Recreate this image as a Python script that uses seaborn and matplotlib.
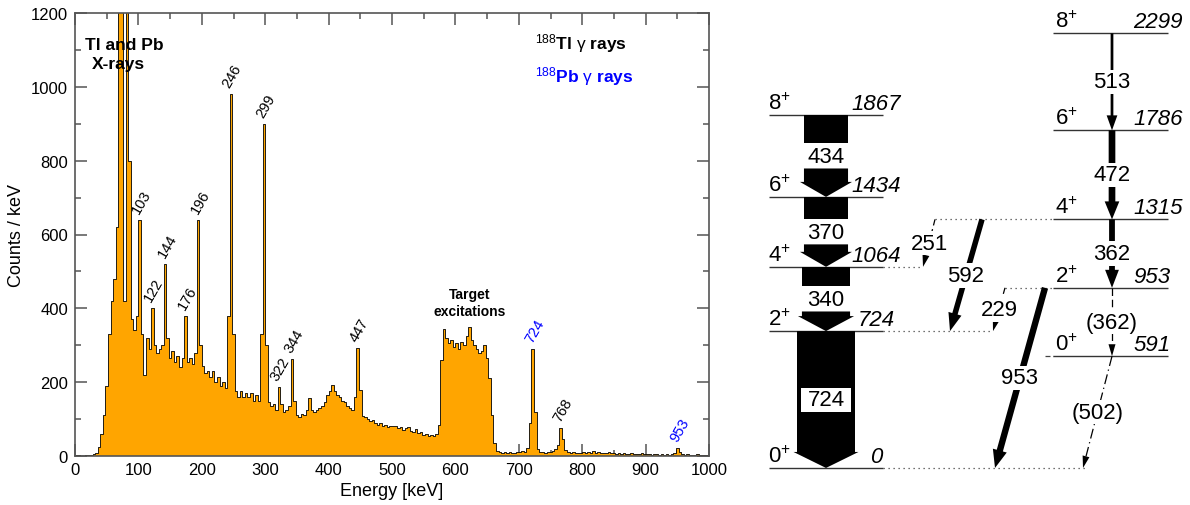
import numpy as np
import pandas as pd
import seaborn as sns
import matplotlib.pyplot as plt
from matplotlib.patches import Polygon, Rectangle
from matplotlib.ticker import MultipleLocator

#========================= Data ===============================================
# gamma spectrum, counts / keV in 4 keV bins from 0 to 1000 keV
bin_width = 4
counts = [
    3, 2, 1, 1, 2, 3, 4, 6, 8, 25, 60, 110, 190, 330, 420, 480, 620, 2600, 1900, 420, 2500, 800, 370, 340, 380,
    640, 330, 220, 320, 290, 400, 300, 280, 290, 300, 520, 320, 265, 285, 255, 270, 240, 265, 380, 255, 265, 250, 280, 640, 300,
    245, 225, 230, 215, 230, 200, 215, 190, 200, 185, 380, 980, 330, 175, 160, 175, 160, 170, 160, 170, 150, 165, 150, 330, 900,
    300, 145, 135, 140, 125, 187, 140, 120, 125, 135, 263, 150, 110, 105, 115, 110, 125, 158, 125, 120, 125, 130, 135, 145, 165,
    175, 192, 175, 165, 160, 150, 145, 135, 130, 125, 160, 293, 180, 108, 105, 100, 95, 98, 90, 85, 90, 80, 85, 78, 82,
    80, 82, 75, 78, 70, 75, 78, 68, 65, 72, 62, 64, 56, 60, 55, 58, 55, 60, 85, 260, 345, 320, 305, 315, 295,
    305, 290, 310, 300, 325, 350, 315, 300, 290, 280, 285, 300, 265, 210, 110, 35, 14, 10, 8, 10, 8, 12, 9, 8, 12,
    10, 14, 12, 22, 90, 290, 120, 20, 12, 10, 8, 12, 10, 14, 18, 30, 75, 45, 15, 10, 8, 10, 7, 9, 8,
    10, 8, 12, 9, 14, 8, 10, 7, 9, 8, 11, 7, 8, 6, 7, 6, 8, 5, 6, 7, 5, 6, 5, 7, 5,
    5, 6, 4, 5, 6, 4, 5, 4, 5, 4, 6, 8, 22, 12, 5, 4, 5, 3, 4, 3, 5, 3, 4, 3, 3,
]
peak_labels = [103, 122, 144, 176, 196, 246, 299, 322, 344, 447, 724, 768, 953]
pb_peaks = [724, 953]          # 188Pb lines, everything else 188Tl

# level scheme, band A (left) and band B (right)
band_a_levels = [0, 724, 1064, 1434, 1867]
band_a_spins = ['0', '2', '4', '6', '8']
band_a_gammas = ['724', '340', '370', '434']
band_a_intens = [100, 83, 76, 76]

band_b_levels = [591, 953, 1315, 1786, 2299]
band_b_spins = ['0', '2', '4', '6', '8']
gam_from = [2299, 1786, 1315, 953, 591, 1315, 953, 1315, 953]
gam_to = [1786, 1315, 953, 591, 0, 724, 0, 1064, 724]
gam_label = ['513', '472', '362', '(362)', '(502)', '592', '953', '251', '229']
gam_intens = [4.7, 11.5, 10, 0, 0, 9.5, 11, 0, 0]

#========================= Style ==============================================
sns.set_style('ticks')
plt.rcParams['font.family'] = ['Liberation Sans', 'DejaVu Sans']
plt.rcParams['mathtext.fontset'] = 'custom'
plt.rcParams['mathtext.rm'] = 'Liberation Sans'
plt.rcParams['mathtext.it'] = 'Liberation Sans:italic'
plt.rcParams['mathtext.bf'] = 'Liberation Sans:bold'
plt.rcParams['text.color'] = 'black'
plt.rcParams['axes.labelcolor'] = 'black'

fig = plt.figure(figsize=(11.9, 5.06), dpi=100)
fig.patch.set_facecolor('white')

#========================= Spectrum ===========================================
ax = fig.add_axes([75/1190, 49/506, 634/1190, 443/506])
lo = np.arange(0, 1000, bin_width)
spec = pd.DataFrame({'energy': lo + bin_width/2, 'counts': counts})
sns.histplot(data=spec, x='energy', weights='counts', binwidth=bin_width,
             binrange=(0, 1000), element='step', fill=True, facecolor='orange',
             edgecolor='black', linewidth=0.6, alpha=1, ax=ax)

ax.set_xlim(0, 1000)
ax.set_ylim(0, 1200)
ax.xaxis.set_major_locator(MultipleLocator(100))
ax.xaxis.set_minor_locator(MultipleLocator(50))
ax.yaxis.set_major_locator(MultipleLocator(200))
ax.yaxis.set_minor_locator(MultipleLocator(100))
ax.tick_params(which='both', direction='in', top=True, right=True,
               color='#555555', labelcolor='black', width=1.1, labelsize=12)
ax.tick_params(which='major', length=8.6)
ax.tick_params(which='minor', length=4.3)
ax.tick_params(axis='x', pad=4)
ax.tick_params(axis='y', pad=5)
for s in ax.spines.values():
    s.set_color('#555555')
    s.set_linewidth(1.2)
ax.set_xlabel('Energy [keV]', fontsize=13)
ax.set_ylabel('Counts / keV', fontsize=13)

centers = spec['energy'].values
cnt = spec['counts'].values
for e in peak_labels:
    top = cnt[np.abs(centers - e) <= 5].max()
    col = 'blue' if e in pb_peaks else 'black'
    ax.text(e + 2, top + 12, str(e), rotation=60, ha='center', va='bottom',
            fontsize=10.5, color=col)

ax.text(16, 1103, 'Tl and Pb', fontsize=12.5, fontweight='bold', ha='left', va='baseline')
ax.text(27, 1050, 'X-rays', fontsize=12.5, fontweight='bold', ha='left', va='baseline')
ax.text(623, 415, 'Target\nexcitations', fontsize=10, fontweight='bold',
        ha='center', va='center', linespacing=1.3)
ax.text(725, 1103, r'$^{188}$Tl $\mathrm{\gamma}$ rays', fontsize=12.5,
        fontweight='bold', ha='left', va='baseline')
ax.text(725, 1016, r'$^{188}$Pb $\mathrm{\gamma}$ rays', fontsize=12.5,
        fontweight='bold', ha='left', va='baseline', color='blue')

#========================= Level scheme =======================================
Y0, Y1 = -196, 2481
KY = 506 / (Y1 - Y0)         # pixels per keV
lv = fig.add_axes([740/1190, 0, 450/1190, 1])
lv.set_xlim(740, 1190)
lv.set_ylim(Y0, Y1)
lv.axis('off')

FS = 16
PX = 0.58                    # band width in px per % intensity


def arrow(x0, e0, x1, e1, w, head_len, head_hw):
    p0 = np.array([x0, e0 * KY])
    p1 = np.array([x1, e1 * KY])
    d = (p1 - p0) / np.linalg.norm(p1 - p0)
    n = np.array([-d[1], d[0]])
    b = p1 - d * head_len
    pts = np.array([p0 + n*w/2, b + n*w/2, b + n*head_hw, p1,
                    b - n*head_hw, b - n*w/2, p0 - n*w/2])
    pts[:, 1] /= KY
    lv.add_patch(Polygon(pts, closed=True, facecolor='black', edgecolor='none', zorder=3))
    return b[0], b[1] / KY


# levels
lv.hlines(band_a_levels, 769, 883, color='#333333', lw=1)
lv.hlines(band_b_levels, 1053, 1168, color='#333333', lw=1)
for e, s in zip(band_a_levels, band_a_spins):
    lv.text(768, e + 6/KY, s + r'$^{+}$', fontsize=FS, ha='left', va='baseline')
    lv.text(876, e + 6/KY, str(e), fontsize=FS, style='italic', ha='center', va='baseline')
for e, s in zip(band_b_levels, band_b_spins):
    lv.text(1055, e + 6/KY, s + r'$^{+}$', fontsize=FS, ha='left', va='baseline')
    lv.text(1133, e + 6/KY, str(e), fontsize=FS, style='italic', ha='left', va='baseline')

# dotted level extensions
dot = dict(color='#444444', lw=0.9, linestyle=(0, (1, 3)))
lv.hlines(1315, 935, 1053, **dot)
lv.hlines(953, 1005, 1053, **dot)
lv.hlines(1064, 883, 923, **dot)
lv.hlines(724, 883, 993, **dot)
lv.hlines(0, 883, 1088, **dot)
lv.hlines(591, 1045, 1053, color='#444444', lw=0.9, linestyle=(0, (4, 2, 1, 2)))

# band A: wide arrows
xc = 826
gap = 25 / KY
for i, (g, inten) in enumerate(zip(band_a_gammas, band_a_intens)):
    top, bot = band_a_levels[i + 1], band_a_levels[i]
    w = inten * PX
    mid = (top + bot) / 2
    if i == 0:
        arrow(xc, top, xc, bot, w, 16, w/2 + 3.5)
        lv.add_patch(Rectangle((xc - 25, mid - 12/KY), 50, 24/KY,
                               facecolor='white', edgecolor='none', zorder=4))
        lv.text(xc, mid, g, fontsize=FS, ha='center', va='center', zorder=5)
    else:
        lv.add_patch(Rectangle((xc - w/2, mid + gap/2), w, top - mid - gap/2,
                               facecolor='black', edgecolor='none', zorder=3))
        arrow(xc, mid - gap/2, xc, bot, w, 15, w/2 + 4)
        lv.text(xc, mid - 1/KY, g, fontsize=FS, ha='center', va='center', zorder=5)

# band B and interband transitions
x_from = [1112, 1112, 1112, 1112, 1112, 982, 1045, 935, 1005]
x_to = [1112, 1112, 1112, 1112, 1083, 950, 995, 923, 993]
dash = {'(362)': (0, (6, 3)), '(502)': (0, (8, 3, 1, 3)),
        '251': (0, (5, 3)), '229': (0, (5, 3))}
for e0, e1, lab, inten, x0, x1 in zip(gam_from, gam_to, gam_label, gam_intens, x_from, x_to):
    if inten > 0:
        w = inten * PX
        hl = 15 if w < 4 else 18
        arrow(x0, e0, x1, e1, w, hl, w/2 + 4)
    else:
        bx, be = arrow(x0, e0, x1, e1, 0, 12, 3.5)
        lv.plot([x0, bx], [e0, be], color='black', lw=0.9, linestyle=dash[lab], zorder=3)
    lv.text((x0 + x1) / 2, (e0 + e1) / 2, lab, fontsize=FS, ha='center', va='center',
            zorder=5, bbox=dict(boxstyle='square,pad=0.08', facecolor='white', edgecolor='none'))

fig.savefig('out.png', dpi=100, facecolor='white')
